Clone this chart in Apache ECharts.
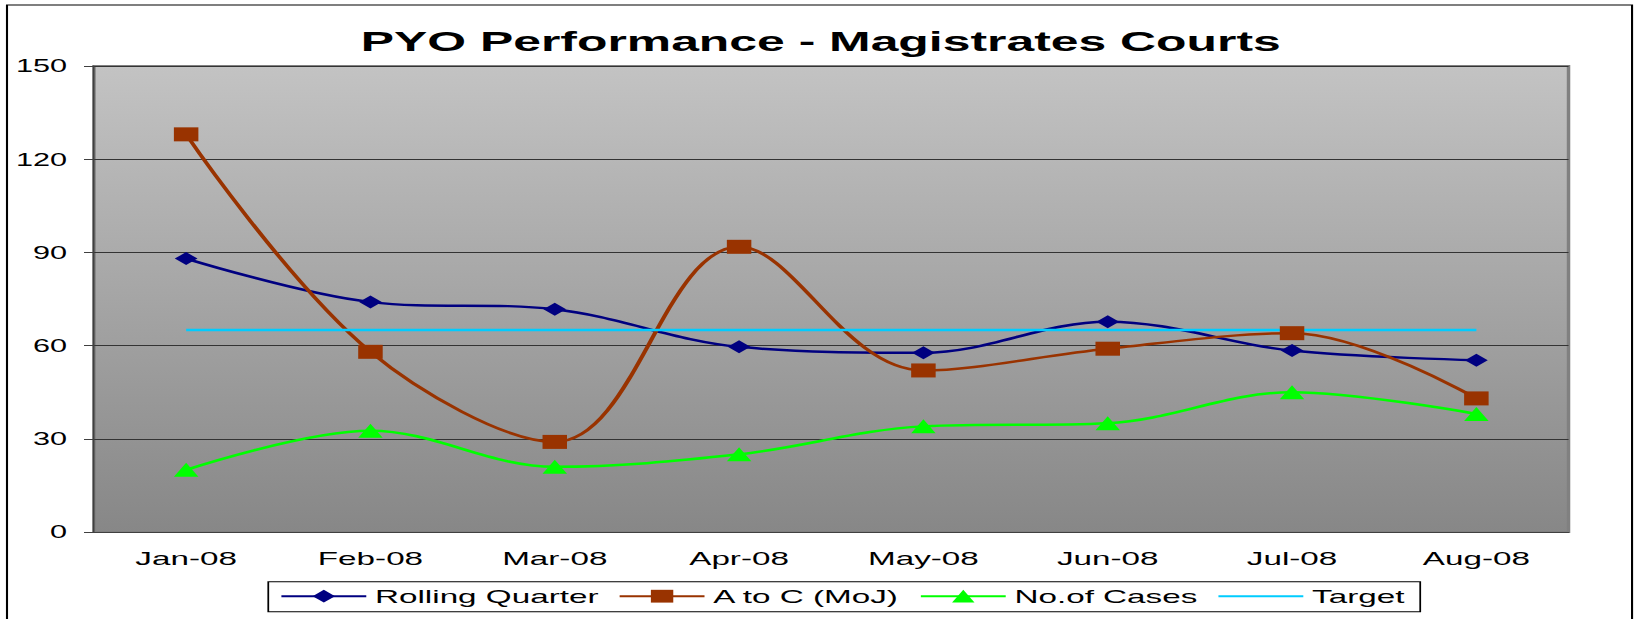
<!DOCTYPE html>
<html>
<head>
<meta charset="utf-8">
<title>PYO Performance - Magistrates Courts</title>
<script src="https://cdn.jsdelivr.net/npm/echarts@6/dist/echarts.min.js"></script>
<style>
  html, body { margin: 0; padding: 0; background: #fff; overflow: hidden; }
  /* the original picture is stretched sideways, so draw narrow and stretch */
  #panel { width: 934.29px; height: 619px; transform: scaleX(1.75); transform-origin: 0 0; }
</style>
</head>
<body>
<div id="panel"></div>
<script>
var months = ['Jan-08', 'Feb-08', 'Mar-08', 'Apr-08', 'May-08', 'Jun-08', 'Jul-08', 'Aug-08'];
var rollingQuarter = [88, 74, 71.7, 59.6, 57.7, 67.7, 58.4, 55.3];
var aToC = [128, 58, 29, 91.8, 52, 59, 64, 43];
var noOfCases = [20, 32.6, 21, 25, 34, 35, 45, 38];
var target = [65, 65, 65, 65, 65, 65, 65, 65];
var yTicks = { min: 0, max: 150, step: 30 };

var font = "'Liberation Sans', Arial, sans-serif";

options = {
    animation: false,
    backgroundColor: '#fff',
    textStyle: { fontFamily: font, color: '#000' },
    title: {
        text: 'PYO Performance - Magistrates Courts',
        left: 469,
        top: 27,
        padding: 0,
        textAlign: 'center',
        textStyle: { fontFamily: font, fontSize: 28.5, fontWeight: 'bold', color: '#000', lineHeight: 28 }
    },
    graphic: [{
        type: 'rect',
        silent: true,
        shape: { x: 4, y: 5, width: 928.6, height: 620 },
        style: { fill: 'none', stroke: '#000', lineWidth: 1.2 }
    }],
    grid: {
        left: 53.7, right: 37.7, top: 66, bottom: 87,
        show: true,
        borderColor: '#808080',
        borderWidth: 2,
        backgroundColor: {
            type: 'linear', x: 0, y: 0, x2: 0, y2: 1,
            colorStops: [{ offset: 0, color: '#c3c3c3' }, { offset: 1, color: '#878787' }]
        }
    },
    legend: {
        data: ['Rolling Quarter', 'A to C (MoJ)', 'No.of Cases',
            { name: 'Target', itemStyle: { opacity: 0 } }],
        left: 153.3,
        top: 581.7,
        padding: [5, 9, 6, 6.5],
        itemWidth: 48.5,
        itemHeight: 16,
        itemGap: 11,
        borderColor: '#000',
        borderWidth: 1,
        backgroundColor: '#fff',
        textStyle: { fontFamily: font, fontSize: 19, color: '#000', lineHeight: 19 }
    },
    xAxis: {
        type: 'category',
        data: months,
        boundaryGap: true,
        axisLine: { lineStyle: { color: '#404040', width: 1 } },
        axisTick: { length: 5, lineStyle: { color: '#404040' } },
        axisLabel: { fontFamily: font, fontSize: 19, color: '#000', margin: 17 },
        splitLine: { show: false }
    },
    yAxis: {
        type: 'value',
        min: yTicks.min,
        max: yTicks.max,
        interval: yTicks.step,
        axisLine: { show: true, lineStyle: { color: '#404040', width: 1 } },
        axisTick: { show: true, length: 5.7, lineStyle: { color: '#404040' } },
        axisLabel: { fontFamily: font, fontSize: 17.5, color: '#000', margin: 15.4 },
        splitLine: { show: true, lineStyle: { color: '#333', width: 1 } }
    },
    series: [{
        name: 'Rolling Quarter',
        type: 'line',
        data: rollingQuarter,
        smooth: 0.35,
        symbol: 'diamond',
        symbolSize: 13,
        lineStyle: { color: '#000080', width: 2.5 },
        itemStyle: { color: '#000080' }
    }, {
        name: 'A to C (MoJ)',
        type: 'line',
        data: aToC,
        smooth: 0.35,
        symbol: 'rect',
        symbolSize: 14,
        lineStyle: { color: '#993300', width: 2.5 },
        itemStyle: { color: '#993300' }
    }, {
        name: 'No.of Cases',
        type: 'line',
        data: noOfCases,
        smooth: 0.35,
        symbol: 'triangle',
        symbolSize: 14,
        lineStyle: { color: '#00ff00', width: 2.5 },
        itemStyle: { color: '#00ff00' }
    }, {
        name: 'Target',
        type: 'line',
        data: target,
        symbol: 'none',
        lineStyle: { color: '#00ccff', width: 2.5 },
        itemStyle: { color: '#00ccff' }
    }]
};

var myChart = echarts.init(document.getElementById('panel'), null, { renderer: 'svg' });
myChart.setOption(options);
</script>
</body>
</html>
